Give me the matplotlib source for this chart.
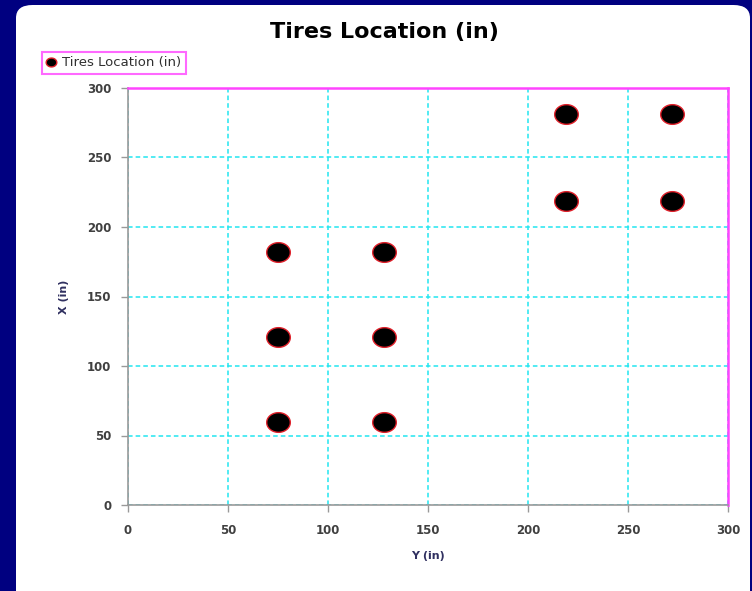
import numpy as np
import matplotlib
matplotlib.use("Agg")
import matplotlib.pyplot as plt
from matplotlib.patches import FancyBboxPatch
from matplotlib.path import Path

# tire positions (in)
y_pos = [75, 75, 75, 128, 128, 128, 219, 219, 272, 272]
x_pos = [60, 121, 182, 60, 121, 182, 219, 281, 219, 281]
ticks = [0, 50, 100, 150, 200, 250, 300]

fig = plt.figure(figsize=(7.52, 5.91), dpi=100)
fig.patch.set_facecolor("#000080")

# white rounded panel behind everything
panel = FancyBboxPatch((16 / 752, -30 / 591), 734 / 752, 616 / 591,
                       boxstyle="round,pad=0,rounding_size=0.022",
                       transform=fig.transFigure, facecolor="white",
                       edgecolor="none", zorder=-5)
fig.patches.append(panel)

ax = fig.add_axes([128 / 752, 1 - 505 / 591, 600 / 752, 417 / 591])
ax.set_zorder(2)
ax.set_facecolor("white")

# slightly wide ellipse marker
t = np.linspace(0, 2 * np.pi, 60)
ellipse = Path(np.column_stack([1.2 * np.cos(t), np.sin(t)]), closed=True)

ax.plot(y_pos, x_pos, linestyle="none", marker=ellipse, markersize=17,
        markerfacecolor="black", markeredgecolor="#e0202a", markeredgewidth=1.0,
        label="Tires Location (in)", zorder=3)

ax.set_xlim(0, 300)
ax.set_ylim(0, 300)
ax.set_xticks(ticks)
ax.set_yticks(ticks)
ax.grid(True, color="#22e5f0", linestyle=(0, (3, 2)), linewidth=1.1)
ax.set_axisbelow(True)

for side in ["top", "right"]:
    ax.spines[side].set_color("#ff44ff")
    ax.spines[side].set_linewidth(1.8)
for side in ["left", "bottom"]:
    ax.spines[side].set_color("#999999")
    ax.spines[side].set_linewidth(1.2)

ax.tick_params(axis="both", colors="#999999", length=5, width=1, labelsize=8.5,
               labelcolor="#404040", pad=7)
ax.tick_params(axis="x", pad=9)
for lab in ax.get_xticklabels() + ax.get_yticklabels():
    lab.set_fontweight("bold")

ax.set_xlabel("Y (in)", fontsize=8, fontweight="bold", color="#303060", labelpad=10)
ax.set_ylabel("X (in)", fontsize=8, fontweight="bold", color="#303060", labelpad=13)

fig.text(384 / 752, 1 - 32 / 591, "Tires Location (in)", ha="center", va="center",
         fontsize=16, fontweight="bold", color="black")

leg = fig.legend(loc="upper left", bbox_to_anchor=(35 / 752, 1 - 45 / 591),
                 fontsize=9.5, markerscale=0.45, handlelength=0.8, handletextpad=0.4,
                 borderpad=0.35, fancybox=False, frameon=True)
leg.get_frame().set_edgecolor("#ff44ff")
leg.get_frame().set_linewidth(1.5)
for txt in leg.get_texts():
    txt.set_color("#303030")

fig.savefig("out.png", dpi=100, facecolor=fig.get_facecolor())
